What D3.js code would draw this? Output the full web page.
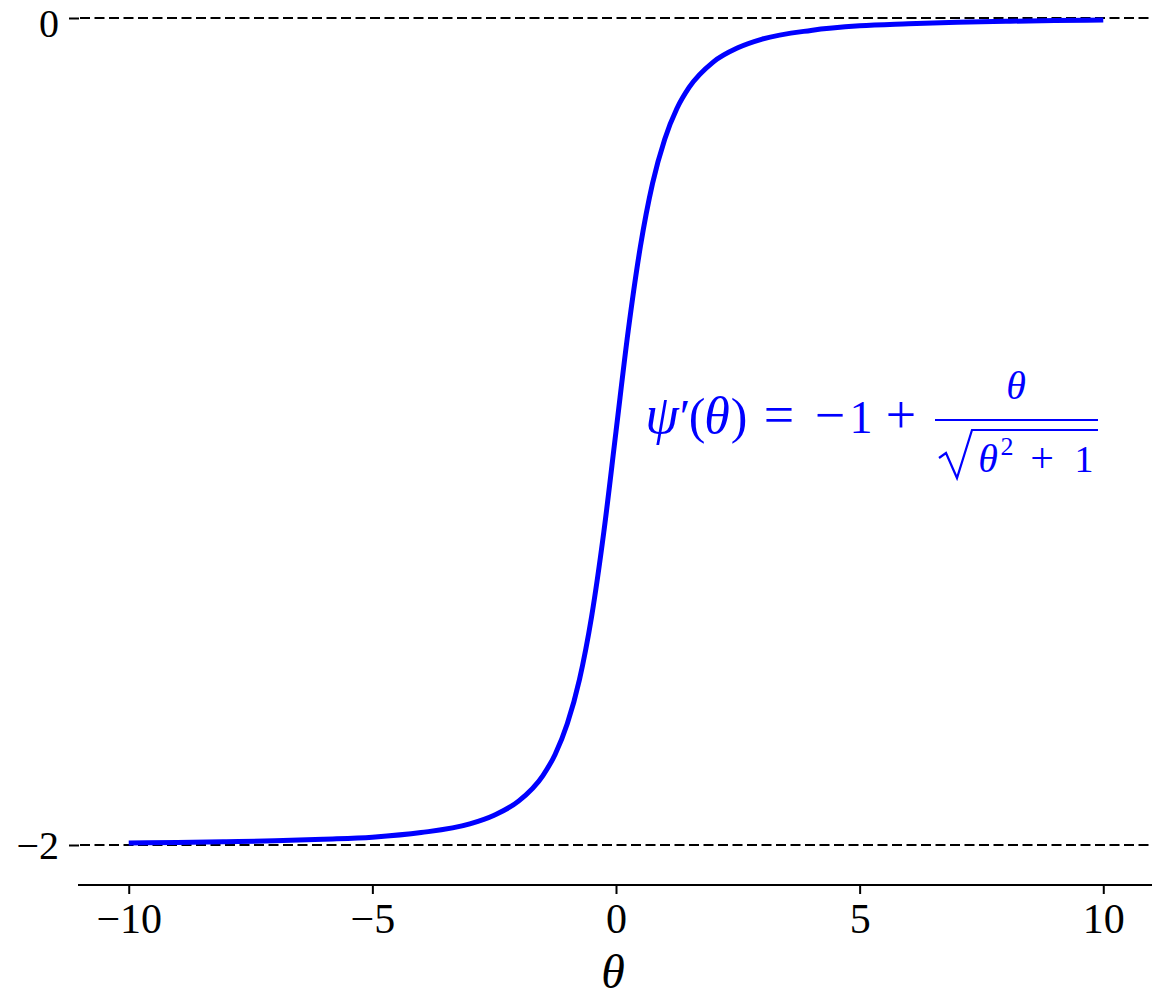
<!DOCTYPE html>
<html>
<head>
<meta charset="utf-8">
<script src="https://cdn.jsdelivr.net/npm/d3@7"></script>
<style>
  html, body { margin: 0; padding: 0; background: #fff; }
  svg { display: block; }
  .tick text { font-family: "Liberation Serif", "DejaVu Serif", serif; }
</style>
</head>
<body>
<script>
// values
var thetas = [-10, -9, -8, -7, -6, -5, -4, -3, -2.5, -2, -1.5, -1.25, -1, -0.75, -0.5, -0.25,
              0, 0.25, 0.5, 0.75, 1, 1.25, 1.5, 2, 2.5, 3, 4, 5, 6, 7, 8, 9, 10];
var psiPrime = [-1.995, -1.994, -1.992, -1.990, -1.986, -1.981, -1.970, -1.949, -1.928, -1.894, -1.832, -1.781, -1.707, -1.600, -1.447, -1.243,
                -1.000, -0.757, -0.553, -0.400, -0.293, -0.219, -0.168, -0.106, -0.072, -0.051, -0.030, -0.019, -0.014, -0.010, -0.008, -0.006, -0.005];
var xTicks = [-10, -5, 0, 5, 10];
var yTicks = [-2, 0];
var refLines = [0, -2];

var width = 1156, height = 999;
var serif = '"Liberation Serif", "DejaVu Serif", serif';

var svg = d3.select("body").append("svg")
    .attr("width", width)
    .attr("height", height);

var x = d3.scaleLinear().domain([-11, 11]).range([80, 1152]);
var y = d3.scaleLinear().domain([-2, 0]).range([845, 18]);

// dashed reference lines
svg.selectAll(".ref")
  .data(refLines)
  .enter().append("line")
    .attr("class", "ref")
    .attr("x1", 80).attr("x2", 1152)
    .attr("y1", function(d) { return y(d); })
    .attr("y2", function(d) { return y(d); })
    .attr("stroke", "#000")
    .attr("stroke-width", 2.2)
    .attr("stroke-dasharray", "10,4.5");

// x axis (bottom spine only)
var fmt = function(d) { return d < 0 ? "\u2212" + Math.abs(d) : String(d); };
var xAxis = svg.append("g")
    .attr("transform", "translate(0,885)")
    .call(d3.axisBottom(x).tickValues(xTicks).tickFormat(fmt).tickSizeOuter(0).tickSize(9).tickPadding(9));
xAxis.select(".domain").attr("stroke-width", 2).attr("d", "M78,0H1152");
xAxis.selectAll(".tick line").attr("stroke-width", 2);
xAxis.selectAll(".tick text").attr("font-size", 42).attr("fill", "#000");

// y axis ticks (no spine)
var yAxis = svg.append("g")
    .attr("transform", "translate(79,0)")
    .call(d3.axisLeft(y).tickValues(yTicks).tickFormat(fmt).tickSize(10).tickPadding(10));
yAxis.select(".domain").remove();
yAxis.selectAll(".tick line").attr("stroke-width", 2);
yAxis.selectAll(".tick text")
    .attr("font-size", 40).attr("fill", "#000")
    // keep the top label inside the page
    .attr("dy", function(d) { return d === 0 ? "0.45em" : "0.34em"; });

// x label
svg.append("text")
    .attr("x", 613).attr("y", 988)
    .attr("text-anchor", "middle")
    .attr("font-family", serif)
    .attr("font-style", "italic")
    .attr("font-size", 48)
    .text("\u03b8");

// the curve
var pts = thetas.map(function(t, i) { return [t, psiPrime[i]]; });
var line = d3.line()
    .x(function(d) { return x(d[0]); })
    .y(function(d) { return y(d[1]); })
    .curve(d3.curveMonotoneX);
svg.append("path")
    .datum(pts)
    .attr("d", line)
    .attr("fill", "none")
    .attr("stroke", "#0000ff")
    .attr("stroke-width", 5)
    .attr("stroke-linejoin", "round");

// formula annotation
var blue = "#0000ff";
var ann = svg.append("g").attr("fill", blue).attr("font-family", serif);
function glyph(txt, cx, base, size, italic) {
  ann.append("text")
    .attr("x", cx).attr("y", base)
    .attr("text-anchor", "middle")
    .attr("font-size", size)
    .attr("font-style", italic ? "italic" : "normal")
    .text(txt);
}
glyph("\u03c8", 662, 433, 54, true);
glyph("\u2032", 685, 433, 48, false);
glyph("(", 697, 433, 50, false);
glyph("\u03b8", 717, 433, 52, true);
glyph(")", 739, 433, 50, false);
glyph("=", 779, 433, 54, false);
glyph("\u2212", 830, 433, 54, false);
glyph("1", 861, 433, 46, false);
glyph("+", 901, 433, 54, false);
// numerator
glyph("\u03b8", 1016, 399, 40, true);
ann.append("line")
    .attr("x1", 935).attr("x2", 1098)
    .attr("y1", 420).attr("y2", 420)
    .attr("stroke", blue).attr("stroke-width", 2);
// denominator
ann.append("path")
    .attr("d", "M939,458 L946,453 L957,478 L972,430 L1098,430")
    .attr("fill", "none")
    .attr("stroke", blue)
    .attr("stroke-width", 2.2)
    .attr("stroke-linejoin", "miter");
glyph("\u03b8", 988, 472, 40, true);
glyph("2", 1007, 455, 26, false);
glyph("+", 1042, 472, 42, false);
glyph("1", 1084, 472, 38, false);
</script>
</body>
</html>
